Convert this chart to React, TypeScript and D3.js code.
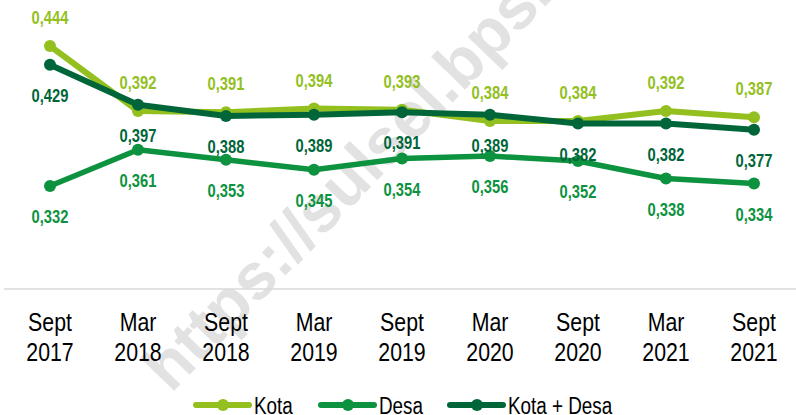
import React from "react";
import * as d3 from "d3";

const categories = [
  ["Sept", "2017"],
  ["Mar", "2018"],
  ["Sept", "2018"],
  ["Mar", "2019"],
  ["Sept", "2019"],
  ["Mar", "2020"],
  ["Sept", "2020"],
  ["Mar", "2021"],
  ["Sept", "2021"],
];
const kota = [0.444, 0.392, 0.391, 0.394, 0.393, 0.384, 0.384, 0.392, 0.387];
const desa = [0.332, 0.361, 0.353, 0.345, 0.354, 0.356, 0.352, 0.338, 0.334];
const kotaDesa = [0.429, 0.397, 0.388, 0.389, 0.391, 0.389, 0.382, 0.382, 0.377];
const seriesNames = ["Kota", "Desa", "Kota + Desa"];
const yDomain = [0.25, 0.45];

const W = 796;
const H = 415;
const FONT = "'Liberation Sans', Arial, sans-serif";
const NARROW = 0.82;

const series = [
  { name: seriesNames[0], values: kota, color: "#93c01f", width: 6, labelDy: -22 },
  { name: seriesNames[1], values: desa, color: "#0d9240", width: 5.5, labelDy: 37 },
  { name: seriesNames[2], values: kotaDesa, color: "#00663a", width: 6, labelDy: 37 },
];

const fmt = (v: number) => v.toFixed(3).replace(".", ",");

function NText(props: {
  x: number;
  y: number;
  size: number;
  anchor?: string;
  weight?: string;
  fill?: string;
  children: React.ReactNode;
}) {
  return (
    <text
      transform={`translate(${props.x},${props.y}) scale(${NARROW},1)`}
      textAnchor={props.anchor || "start"}
      fontSize={props.size}
      fontWeight={props.weight || "normal"}
      fill={props.fill || "#000"}
    >
      {props.children}
    </text>
  );
}

export default function App() {
  const keys = categories.map((c) => c.join(" "));
  const x = d3.scalePoint<string>().domain(keys).range([50, 754]);
  const y = d3.scaleLinear().domain(yDomain).range([288.5, 38.5]);
  const line = d3
    .line<number>()
    .x((_, i) => x(keys[i]) as number)
    .y((d) => y(d));

  const legendX = [194, 319, 448];

  return (
    <svg
      width={W}
      height={H}
      style={{ position: "absolute", left: 0, top: 0, background: "#fff" }}
      fontFamily={FONT}
    >
      <rect width={W} height={H} fill="#fff" />
      <text
        transform="translate(171,394) rotate(-46)"
        fontWeight="bold"
        fontSize={65}
        fill="#e2e2e2"
      >
        https://sulsel.bps.go.id
      </text>
      <line x1={4} x2={W} y1={289} y2={289} stroke="#d9d9d9" strokeWidth={1.5} />
      {categories.map((c, i) => (
        <g key={i}>
          <NText x={x(keys[i]) as number} y={331} size={26} anchor="middle">
            {c[0]}
          </NText>
          <NText x={x(keys[i]) as number} y={361} size={26} anchor="middle">
            {c[1]}
          </NText>
        </g>
      ))}
      {series.map((s) => (
        <g key={s.name}>
          <path
            d={line(s.values) || ""}
            fill="none"
            stroke={s.color}
            strokeWidth={s.width}
            strokeLinejoin="round"
          />
          {s.values.map((v, i) => (
            <circle key={i} cx={x(keys[i])} cy={y(v)} r={6} fill={s.color} />
          ))}
        </g>
      ))}
      {series.map((s) => (
        <g key={s.name + "-labels"}>
          {s.values.map((v, i) => (
            <NText
              key={i}
              x={x(keys[i]) as number}
              y={y(v) + s.labelDy}
              size={18}
              anchor="middle"
              weight="bold"
              fill={s.color}
            >
              {fmt(v)}
            </NText>
          ))}
        </g>
      ))}
      {series.map((s, i) => (
        <g key={s.name + "-legend"} transform={`translate(${legendX[i]},405)`}>
          <line x1={2} x2={55} y1={0} y2={0} stroke={s.color} strokeWidth={6} strokeLinecap="round" />
          <circle cx={29} cy={0} r={6} fill={s.color} />
          <NText x={60} y={8.5} size={23}>
            {s.name}
          </NText>
        </g>
      ))}
    </svg>
  );
}
